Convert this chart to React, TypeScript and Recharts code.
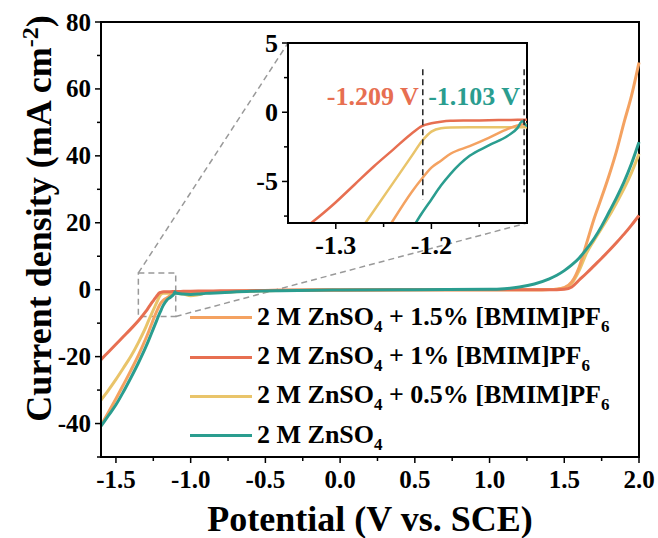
import React from 'react';
import {
  LineChart,
  Line,
  XAxis,
  YAxis,
  ReferenceArea,
  ReferenceLine,
  CartesianGrid,
} from 'recharts';

// Linear sweep voltammetry, current density (mA cm-2) vs potential (V vs. SCE)
const potential = [
  -1.6, -1.55, -1.5, -1.45, -1.4, -1.35, -1.3, -1.28, -1.26, -1.24, -1.22, -1.21,
  -1.2, -1.19, -1.18, -1.16, -1.14, -1.12, -1.11, -1.105, -1.1, -1.05, -1.0, -0.95,
  -0.9, -0.8, -0.6, -0.4, 0, 0.5, 1.0, 1.1, 1.2, 1.3, 1.4, 1.45, 1.5, 1.55, 1.6,
  1.65, 1.7, 1.75, 1.8, 1.85, 1.9, 1.95, 2.0,
];

// 2 M ZnSO4 + 1.5% [BMIM]PF6
const j15 = [
  -40.5, -36.6, -32.6, -28.4, -24.1, -19.6, -14.6, -12.4, -10.1, -7.8, -5.7, -4.8,
  -4.0, -3.5, -3.0, -2.45, -1.85, -1.2, -0.95, -0.88, -0.85, -0.95, -1.1, -1.0,
  -0.8, -0.6, -0.35, -0.2, -0.1, 0, 0, 0, 0, 0, 0.05, 0.15, 0.6, 2.3, 6.8,
  14.0, 21.3, 27.6, 34.2, 41.5, 50.0, 58.0, 67.9,
];

// 2 M ZnSO4 + 1% [BMIM]PF6
const j10 = [
  -20.9, -18.6, -16.3, -14.0, -11.7, -9.3, -6.5, -5.2, -3.9, -2.7, -1.5, -1.0,
  -0.8, -0.68, -0.62, -0.6, -0.58, -0.56, -0.55, -0.55, -0.55, -0.5, -0.45, -0.42,
  -0.4, -0.35, -0.28, -0.2, -0.1, 0, 0, 0, 0, 0, 0, 0, 0.1, 0.8, 2.9,
  5.0, 7.2, 9.4, 11.7, 14.1, 16.6, 19.3, 22.2,
];

// 2 M ZnSO4 + 0.5% [BMIM]PF6
const j05 = [
  -33.0, -30.0, -26.8, -23.4, -19.9, -15.8, -11.2, -9.1, -7.1, -5.1, -3.1, -2.1,
  -1.4, -1.15, -1.1, -1.08, -1.08, -1.08, -1.08, -1.08, -1.1, -1.3, -1.8, -1.5,
  -1.0, -0.7, -0.45, -0.25, -0.1, 0, 0, 0, 0, 0, 0.05, 0.15, 0.5, 1.9, 5.8,
  11.0, 14.8, 18.4, 22.0, 26.0, 30.2, 35.0, 40.6,
];

// 2 M ZnSO4
const jBare = [
  -40.8, -37.6, -34.4, -30.5, -26.3, -21.9, -17.1, -15.0, -12.8, -10.6, -8.4, -7.3,
  -6.3, -5.3, -4.45, -3.15, -2.4, -1.7, -1.15, -0.65, -1.0, -1.3, -1.4, -1.3,
  -1.1, -0.9, -0.5, -0.3, -0.1, 0, 0.1, 0.3, 0.8, 1.7, 3.2, 4.3, 5.7, 7.4, 9.5,
  12.2, 15.3, 19.0, 23.2, 27.5, 32.2, 37.7, 44.1,
];

const seriesKeys = ['j15', 'j10', 'j05', 'jBare'];
const seriesAdditive = ['1.5%', '1%', '0.5%', ''];
const seriesColors = ['#F4A261', '#E76F51', '#E9C46A', '#2A9D8F'];
// back to front
const drawOrder = [2, 0, 1, 3];

const onsetPotentials = [-1.209, -1.103];
const onsetColors = ['#E76F51', '#2A9D8F'];

const mainXTicks = [-1.5, -1.25, -1, -0.75, -0.5, -0.25, 0, 0.25, 0.5, 0.75, 1, 1.25, 1.5, 1.75, 2];
const mainYTicks = [-50, -40, -30, -20, -10, 0, 10, 20, 30, 40, 50, 60, 70, 80];
const insetXTicks = [-1.3, -1.25, -1.2, -1.15];
const insetYTicks = [5, 2.5, 0, -2.5, -5, -7.5];

const data = potential.map((v, i) => ({
  v,
  j15: j15[i],
  j10: j10[i],
  j05: j05[i],
  jBare: jBare[i],
}));

const FONT = "'Liberation Serif', 'Times New Roman', serif";

// main chart geometry
const W = 658;
const H = 538;
const M = { top: 22, right: 19, left: 21, bottom: 31 };
const Y_AXIS_W = 80;
const X_AXIS_H = 50;
const X_DOMAIN: [number, number] = [-1.6, 2];
const Y_DOMAIN: [number, number] = [-50, 80];
const plotLeft = M.left + Y_AXIS_W;
const plotTop = M.top;
const plotW = W - plotLeft - M.right;
const plotH = H - M.top - M.bottom - X_AXIS_H;

// inset geometry
const INSET = { left: 230, top: 30, width: 310, height: 240 };
const IM = { top: 13, right: 13, left: 8, bottom: 17 };
const INSET_Y_AXIS_W = 50;
const INSET_X_AXIS_H = 30;
const INSET_X: [number, number] = [-1.35, -1.1];
const INSET_Y: [number, number] = [-8, 5];
const insetBox = {
  left: INSET.left + IM.left + INSET_Y_AXIS_W,
  top: INSET.top + IM.top,
  right: INSET.left + INSET.width - IM.right,
  bottom: INSET.top + INSET.height - IM.bottom - INSET_X_AXIS_H,
};

// page pixel -> main chart data coordinates
const toMain = (px: number, py: number) => ({
  x: X_DOMAIN[0] + ((px - plotLeft) / plotW) * (X_DOMAIN[1] - X_DOMAIN[0]),
  y: Y_DOMAIN[1] - ((py - plotTop) / plotH) * (Y_DOMAIN[1] - Y_DOMAIN[0]),
});

const isMult = (v: number, step: number) => Math.abs(v / step - Math.round(v / step)) < 1e-6;

const makeXTick = (fontSize: number, major: (v: number) => boolean) => (props: any) => {
  const { x, y, payload } = props;
  const isMajor = major(payload.value);
  return (
    <g>
      <line x1={x} y1={y} x2={x} y2={y + (isMajor ? 6 : 4)} stroke="#000" strokeWidth={1.5} />
      {isMajor && (
        <text x={x} y={y + 31} textAnchor="middle" fontSize={fontSize} fontWeight="bold" fontFamily={FONT} fill="#000">
          {payload.value.toFixed(1)}
        </text>
      )}
    </g>
  );
};

const makeYTick = (fontSize: number, major: (v: number) => boolean) => (props: any) => {
  const { x, y, payload } = props;
  const isMajor = major(payload.value);
  return (
    <g>
      <line x1={x} y1={y} x2={x - (isMajor ? 6 : 4)} y2={y} stroke="#000" strokeWidth={1.5} />
      {isMajor && (
        <text x={x - 10} y={y} dy="0.34em" textAnchor="end" fontSize={fontSize} fontWeight="bold" fontFamily={FONT} fill="#000">
          {payload.value}
        </text>
      )}
    </g>
  );
};

const MainXTick = makeXTick(25, (v) => isMult(v, 0.5));
const MainYTick = makeYTick(25, (v) => isMult(v, 20));
const InsetXTick = makeXTick(26, (v) => isMult(v, 0.1));
const InsetYTick = makeYTick(26, (v) => isMult(v, 5));

const YTitle = (props: any) => {
  const { viewBox } = props;
  const cx = viewBox.x + 30;
  const cy = viewBox.y + viewBox.height / 2 - 21;
  return (
    <text
      x={cx}
      y={cy}
      transform={`rotate(-90 ${cx} ${cy})`}
      textAnchor="middle"
      fontSize={36}
      fontWeight="bold"
      fontFamily={FONT}
      fill="#000"
    >
      <tspan>Current density (mA cm</tspan>
      <tspan dy={-13} fontSize={24}>-2</tspan>
      <tspan dy={13}>)</tspan>
    </text>
  );
};

const XTitle = (props: any) => {
  const { viewBox } = props;
  return (
    <text
      x={viewBox.x + viewBox.width / 2}
      y={viewBox.y + 74}
      textAnchor="middle"
      fontSize={36}
      fontWeight="bold"
      fontFamily={FONT}
      fill="#000"
    >
      Potential (V vs. SCE)
    </text>
  );
};

const onsetTag = (value: number, color: string) => (props: any) => {
  const { viewBox } = props;
  return (
    <text
      x={viewBox.x - 4}
      y={viewBox.y + 36}
      textAnchor="end"
      fontSize={26}
      fontWeight="bold"
      fontFamily={FONT}
      fill={color}
    >
      {`${value.toFixed(3)} V`}
    </text>
  );
};

const Sub = ({ children }: { children: React.ReactNode }) => (
  <span style={{ fontSize: 17, position: 'relative', top: 7 }}>{children}</span>
);

const ElectrolyteLegend = () => (
  <div style={{ position: 'absolute', left: 190, top: 298 }}>
    {seriesKeys.map((key, i) => (
      <div key={key} style={{ display: 'flex', alignItems: 'center', height: 39.4 }}>
        <div style={{ width: 62, height: 3, background: seriesColors[i], marginRight: 5 }} />
        <span style={{ fontSize: 26, fontWeight: 'bold', lineHeight: '39.4px', whiteSpace: 'nowrap', color: '#000' }}>
          2 M ZnSO<Sub>4</Sub>
          {seriesAdditive[i] && (
            <>
              {` + ${seriesAdditive[i]} [BMIM]PF`}
              <Sub>6</Sub>
            </>
          )}
        </span>
      </div>
    ))}
  </div>
);

const insetTopLeft = toMain(insetBox.left, insetBox.top);
const insetBottomRight = toMain(insetBox.right, insetBox.bottom);

export default function App() {
  return (
    <div
      style={{
        position: 'absolute',
        left: 0,
        top: 0,
        width: W,
        height: H,
        background: '#fff',
        fontFamily: FONT,
        overflow: 'hidden',
      }}
    >
      <LineChart width={W} height={H} data={data} margin={M}>
        <XAxis
          type="number"
          dataKey="v"
          domain={X_DOMAIN}
          ticks={mainXTicks}
          interval={0}
          height={X_AXIS_H}
          tickSize={0}
          tickMargin={0}
          tickLine={false}
          tick={MainXTick}
          axisLine={{ stroke: '#000', strokeWidth: 2 }}
          label={{ content: XTitle }}
        />
        <YAxis
          type="number"
          domain={Y_DOMAIN}
          ticks={mainYTicks}
          interval={0}
          width={Y_AXIS_W}
          tickSize={0}
          tickMargin={0}
          tickLine={false}
          tick={MainYTick}
          axisLine={{ stroke: '#000', strokeWidth: 2 }}
          label={{ content: YTitle }}
        />
        <ReferenceArea
          x1={X_DOMAIN[0]}
          x2={X_DOMAIN[1]}
          y1={Y_DOMAIN[0]}
          y2={Y_DOMAIN[1]}
          fill="none"
          stroke="#000"
          strokeWidth={2}
        />
        {/* zoom window and its connectors to the inset */}
        <ReferenceArea
          x1={INSET_X[0]}
          x2={INSET_X[1]}
          y1={INSET_Y[0]}
          y2={INSET_Y[1]}
          fill="none"
          stroke="#999"
          strokeWidth={1.5}
          strokeDasharray="6 4"
        />
        <ReferenceLine
          segment={[{ x: INSET_X[0], y: INSET_Y[1] }, insetTopLeft]}
          stroke="#999"
          strokeWidth={1.5}
          strokeDasharray="6 4"
          ifOverflow="visible"
        />
        <ReferenceLine
          segment={[{ x: INSET_X[1], y: INSET_Y[0] }, insetBottomRight]}
          stroke="#999"
          strokeWidth={1.5}
          strokeDasharray="6 4"
          ifOverflow="visible"
        />
        {drawOrder.map((i) => (
          <Line
            key={seriesKeys[i]}
            dataKey={seriesKeys[i]}
            type="monotone"
            stroke={seriesColors[i]}
            strokeWidth={3}
            dot={false}
            isAnimationActive={false}
          />
        ))}
      </LineChart>

      <ElectrolyteLegend />

      <div style={{ position: 'absolute', left: INSET.left, top: INSET.top }}>
        <LineChart width={INSET.width} height={INSET.height} data={data} margin={IM}>
          <CartesianGrid horizontal={false} vertical={false} fill="#fff" />
          <XAxis
            type="number"
            dataKey="v"
            domain={INSET_X}
            allowDataOverflow
            ticks={insetXTicks}
            interval={0}
            height={INSET_X_AXIS_H}
            tickSize={0}
            tickMargin={0}
            tickLine={false}
            tick={InsetXTick}
            axisLine={{ stroke: '#000', strokeWidth: 2 }}
          />
          <YAxis
            type="number"
            domain={INSET_Y}
            allowDataOverflow
            ticks={insetYTicks}
            interval={0}
            width={INSET_Y_AXIS_W}
            tickSize={0}
            tickMargin={0}
            tickLine={false}
            tick={InsetYTick}
            axisLine={{ stroke: '#000', strokeWidth: 2 }}
          />
          {drawOrder.map((i) => (
            <Line
              key={seriesKeys[i]}
              dataKey={seriesKeys[i]}
              type="monotone"
              stroke={seriesColors[i]}
              strokeWidth={2.5}
              dot={false}
              isAnimationActive={false}
            />
          ))}
          {onsetPotentials.map((p, i) => (
            <ReferenceLine
              key={p}
              segment={[{ x: p, y: 3.1 }, { x: p, y: i === 0 ? -6.3 : -5.8 }]}
              stroke="#222"
              strokeWidth={1.5}
              strokeDasharray="6 4"
              label={{ content: onsetTag(p, onsetColors[i]) }}
            />
          ))}
          <ReferenceArea
            x1={INSET_X[0]}
            x2={INSET_X[1]}
            y1={INSET_Y[0]}
            y2={INSET_Y[1]}
            fill="none"
            stroke="#000"
            strokeWidth={2}
          />
        </LineChart>
      </div>
    </div>
  );
}
